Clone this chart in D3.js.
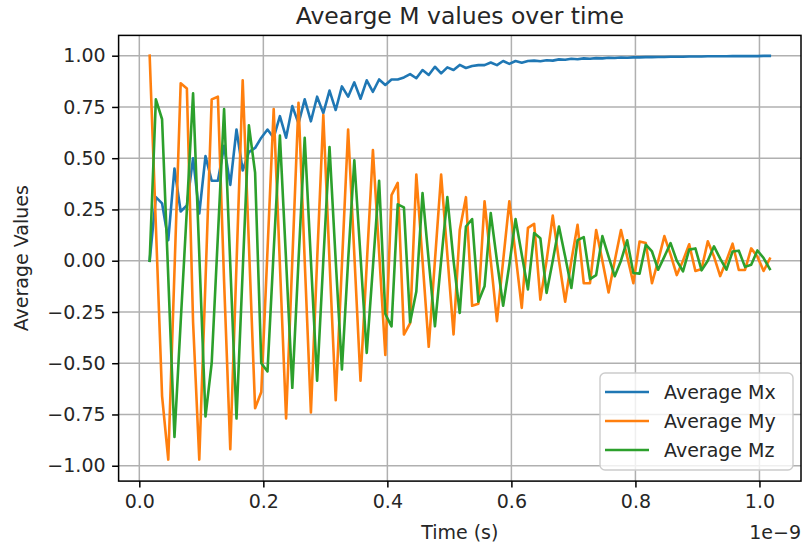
<!DOCTYPE html>
<html>
<head>
<meta charset="utf-8">
<script src="https://cdn.jsdelivr.net/npm/d3@7"></script>
<style>
  body { margin: 0; background: #fff; }
  svg text { font-family: "DejaVu Sans", sans-serif; fill: #262626; }
</style>
</head>
<body>
<svg id="chart" width="804" height="549"></svg>
<script>
// Average M components over time (time axis in units of 1e-9 s)

// sampling times, 101 samples, 0.01e-9 s apart
var times = d3.range(101).map(function (i) { return 0.0167 + i * 0.01; });

var mx = [0.0, 0.31, 0.28, 0.10, 0.45, 0.24, 0.27, 0.50, 0.23, 0.51,
  0.39, 0.39, 0.56, 0.37, 0.64, 0.44, 0.53, 0.55, 0.60, 0.64,
  0.60, 0.705, 0.60, 0.754, 0.67, 0.787, 0.68, 0.80, 0.72, 0.83,
  0.735, 0.85, 0.80, 0.87, 0.79, 0.88, 0.824, 0.884, 0.857, 0.884,
  0.884, 0.894, 0.91, 0.89, 0.93, 0.906, 0.946, 0.914, 0.943, 0.93,
  0.955, 0.94, 0.95, 0.954, 0.954, 0.967, 0.954, 0.974, 0.96, 0.974,
  0.966, 0.974, 0.976, 0.973, 0.978, 0.976, 0.982, 0.98, 0.985, 0.983,
  0.987, 0.985, 0.988, 0.987, 0.99, 0.989, 0.991, 0.99, 0.992, 0.992,
  0.993, 0.993, 0.994, 0.994, 0.995, 0.995, 0.995, 0.996, 0.996, 0.996,
  0.997, 0.997, 0.997, 0.997, 0.998, 0.998, 0.998, 0.998, 0.998, 0.999,
  0.999];

var my = [1.0, 0.17, -0.66, -0.97, -0.05, 0.865, 0.84, -0.3, -0.97, -0.1,
  0.787, 0.80, -0.1, -0.92, -0.02, 0.88, 0.08, -0.72, -0.64, 0.05,
  0.74, -0.02, -0.77, 0.0, 0.77, 0.0, -0.74, 0.0, 0.71, 0.0,
  -0.68, -0.02, 0.64, 0.03, -0.585, -0.02, 0.54, 0.04, -0.46, 0.32,
  0.38, -0.36, -0.305, 0.42, 0.0, -0.42, 0.0, 0.42, 0.03, -0.36,
  0.15, 0.31, -0.22, -0.21, 0.29, 0.0, -0.295, 0.0, 0.29, 0.03,
  -0.23, 0.16, 0.18, -0.19, 0.0, 0.22, 0.0, -0.2, 0.0, 0.175,
  -0.11, -0.11, 0.15, 0.0, -0.155, 0.0, 0.15, 0.02, -0.11, 0.094,
  0.086, -0.11, 0.0, 0.12, 0.03, -0.07, 0.0, 0.08, -0.05, -0.04,
  0.095, 0.02, -0.075, 0.0, 0.083, -0.045, -0.045, 0.06, 0.02, -0.05,
  0.01];

var mz = [0.0, 0.787, 0.69, -0.08, -0.86, -0.3, 0.25, 0.816, 0.03, -0.76,
  -0.5, 0.12, 0.74, -0.02, -0.77, -0.05, 0.66, 0.43, -0.50, -0.54,
  0.05, 0.61, 0.0, -0.62, 0.0, 0.60, 0.0, -0.585, 0.0, 0.555,
  0.0, -0.53, 0.0, 0.49, 0.02, -0.45, -0.03, 0.39, -0.26, -0.32,
  0.275, 0.26, -0.30, -0.15, 0.33, 0.0, -0.32, 0.0, 0.31, 0.0,
  -0.255, 0.167, 0.203, -0.20, -0.125, 0.232, 0.0, -0.22, -0.02, 0.203,
  0.03, -0.14, 0.135, 0.11, -0.157, 0.0, 0.167, 0.02, -0.133, 0.10,
  0.115, -0.09, -0.07, 0.12, 0.02, -0.076, 0.0, 0.10, -0.06, -0.063,
  0.078, 0.045, -0.044, 0.02, 0.086, 0.0, -0.052, 0.054, 0.06, -0.047,
  0.0, 0.07, 0.01, -0.044, 0.045, 0.049, -0.03, -0.02, 0.05, 0.013,
  -0.04];

var seriesNames = ["Average Mx", "Average My", "Average Mz"];
var seriesColors = ["#1f77b4", "#ff7f0e", "#2ca02c"];
var xTicks = [0.0, 0.2, 0.4, 0.6, 0.8, 1.0];
var yTicks = [-1.0, -0.75, -0.5, -0.25, 0.0, 0.25, 0.5, 0.75, 1.0];

// layout
var box = { left: 118.6, right: 801, top: 35.4, bottom: 481.1 };
var fontSize = 19;

var svg = d3.select("#chart");

var x = d3.scaleLinear().domain([-0.0334, 1.067]).range([box.left, box.right]);
var y = d3.scaleLinear().domain([-1.075, 1.099]).range([box.bottom, box.top]);

// grid
var grid = svg.append("g").attr("class", "grid");
grid.selectAll("line.gx").data(xTicks).enter().append("line")
    .attr("x1", function (d) { return x(d); }).attr("x2", function (d) { return x(d); })
    .attr("y1", box.top).attr("y2", box.bottom)
    .attr("stroke", "#b0b0b0").attr("stroke-width", 1.5);
grid.selectAll("line.gy").data(yTicks).enter().append("line")
    .attr("y1", function (d) { return y(d); }).attr("y2", function (d) { return y(d); })
    .attr("x1", box.left).attr("x2", box.right)
    .attr("stroke", "#b0b0b0").attr("stroke-width", 1.5);

// lines
var line = d3.line()
    .x(function (d, i) { return x(times[i]); })
    .y(function (d) { return y(d); });

[mx, my, mz].forEach(function (s, k) {
  svg.append("path")
     .datum(s)
     .attr("d", line)
     .attr("fill", "none")
     .attr("stroke", seriesColors[k])
     .attr("stroke-width", 2.6)
     .attr("stroke-linejoin", "round")
     .attr("stroke-linecap", "square");
});

// axes
var xAxis = svg.append("g")
    .attr("transform", "translate(0," + box.bottom + ")")
    .call(d3.axisBottom(x).tickValues(xTicks).tickFormat(d3.format(".1f"))
          .tickSize(6.5).tickPadding(6.5));
var yAxis = svg.append("g")
    .attr("transform", "translate(" + box.left + ",0)")
    .call(d3.axisLeft(y).tickValues(yTicks).tickFormat(d3.format(".2f"))
          .tickSize(6.5).tickPadding(6.5));

[xAxis, yAxis].forEach(function (a) {
  a.select(".domain").remove();
  a.selectAll(".tick line").attr("stroke", "#000").attr("stroke-width", 1.5);
  a.selectAll(".tick text").attr("font-size", fontSize).style("fill", "#262626");
});

// frame
svg.append("rect")
   .attr("x", box.left).attr("y", box.top)
   .attr("width", box.right - box.left).attr("height", box.bottom - box.top)
   .attr("fill", "none").attr("stroke", "#000").attr("stroke-width", 1.5);

// labels
svg.append("text")
   .attr("x", (box.left + box.right) / 2).attr("y", 24)
   .attr("text-anchor", "middle").attr("font-size", 23.5)
   .text("Avearge M values over time");

svg.append("text")
   .attr("x", (box.left + box.right) / 2).attr("y", 539)
   .attr("text-anchor", "middle").attr("font-size", fontSize)
   .text("Time (s)");

svg.append("text")
   .attr("transform", "translate(28," + ((box.top + box.bottom) / 2) + ") rotate(-90)")
   .attr("text-anchor", "middle").attr("font-size", fontSize)
   .text("Average Values");

svg.append("text")
   .attr("x", box.right).attr("y", 539)
   .attr("text-anchor", "end").attr("font-size", fontSize)
   .text("1e\u22129");

// legend
var legend = svg.append("g").attr("transform", "translate(600,373)");
legend.append("rect")
   .attr("width", 193).attr("height", 97).attr("rx", 5)
   .attr("fill", "#fff").attr("fill-opacity", 0.8)
   .attr("stroke", "#cccccc").attr("stroke-width", 1.4);
var item = legend.selectAll("g.item").data(seriesNames).enter().append("g")
   .attr("transform", function (d, i) { return "translate(0," + (19 + i * 29) + ")"; });
item.append("line")
   .attr("x1", 5).attr("x2", 49)
   .attr("stroke", function (d, i) { return seriesColors[i]; })
   .attr("stroke-width", 2.6);
item.append("text")
   .attr("x", 64).attr("dy", "0.35em")
   .attr("font-size", fontSize)
   .text(function (d) { return d; });
</script>
</body>
</html>
